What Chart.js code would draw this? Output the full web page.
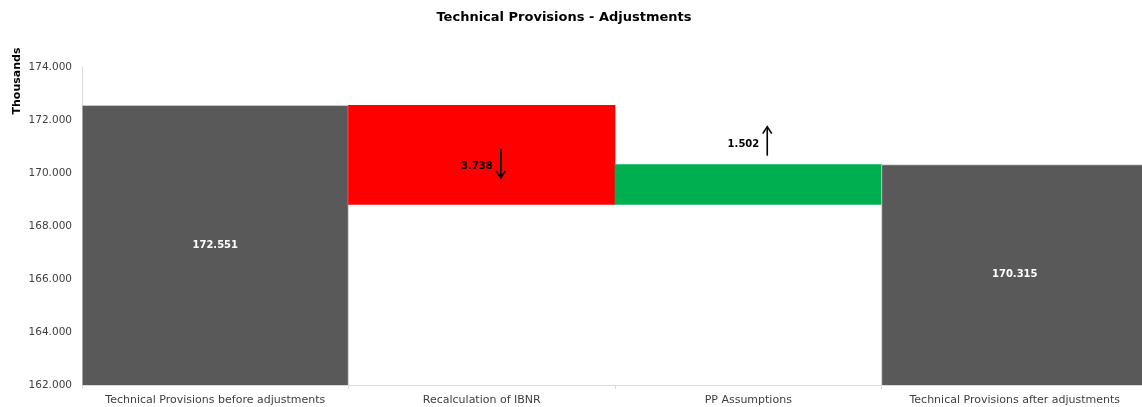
<!DOCTYPE html>
<html>
<head>
<meta charset="utf-8">
<script src="https://cdn.jsdelivr.net/npm/chart.js@4"></script>
<style>
  html, body { margin: 0; padding: 0; background: #fff; overflow: hidden; }
  #wrap { width: 1142px; height: 407px; overflow: hidden; }
</style>
</head>
<body>
<div id="wrap"><canvas id="grafik" width="1148" height="407"></canvas></div>
<script>
// Veriler (binlik birim)
const kategoriler = ['Technical Provisions before adjustments', 'Recalculation of IBNR', 'PP Assumptions', 'Technical Provisions after adjustments'];
const baslangicDegeri = 172551;
const degisimler = [-3738, 1502];
const bitisDegeri = 170315;
const yEksenTikleri = [162000, 164000, 166000, 168000, 170000, 172000, 174000];
const renkler = ['#595959', '#FF0000', '#00B050', '#595959'];
const baslik = 'Technical Provisions - Adjustments';
const yEksenBasligi = 'Thousands';

const yazi = '"DejaVu Sans", Verdana, sans-serif';

function binlikFormat(v) {
    return String(Math.round(Math.abs(v))).replace(/\B(?=(\d{3})+(?!\d))/g, '.');
}

// Şelale verisi: toplamlar normal bar, değişimler yüzen bar
let birikim = baslangicDegeri;
const barVerisi = [baslangicDegeri];
degisimler.forEach(d => {
    const yeni = birikim + d;
    barVerisi.push([Math.min(birikim, yeni), Math.max(birikim, yeni)]);
    birikim = yeni;
});
barVerisi.push(bitisDegeri);

const etiketEklentisi = {
    id: 'etiketler',
    afterDatasetsDraw(chart) {
        const ctx = chart.ctx;
        const meta = chart.getDatasetMeta(0);
        const yOlcek = chart.scales.y;
        const tabanPx = yOlcek.getPixelForValue(yEksenTikleri[0]);
        ctx.save();
        ctx.font = 'bold 10px ' + yazi;
        ctx.textBaseline = 'middle';
        // toplam barlar: beyaz, ortada
        [[0, baslangicDegeri], [3, bitisDegeri]].forEach(([i, v]) => {
            const el = meta.data[i];
            const ustPx = yOlcek.getPixelForValue(v);
            ctx.fillStyle = '#ffffff';
            ctx.textAlign = 'center';
            ctx.fillText(binlikFormat(v), el.x, (ustPx + tabanPx) / 2);
        });
        // değişim barları: siyah metin + ok
        degisimler.forEach((d, k) => {
            const el = meta.data[k + 1];
            const ust = Math.min(el.y, el.base);
            const alt = Math.max(el.y, el.base);
            const ty = d < 0 ? (ust + alt) / 2 + 11 : ust - 20;
            const sag = el.x + 11;
            ctx.fillStyle = '#000000';
            ctx.textAlign = 'right';
            ctx.fillText(binlikFormat(d), sag, ty);
            const ax = sag + 8;
            const ay = ty - 3;
            const y1 = ay - 14, y2 = ay + 14;
            ctx.strokeStyle = '#000000';
            ctx.lineWidth = 1.6;
            ctx.beginPath();
            ctx.moveTo(ax, y1);
            ctx.lineTo(ax, y2);
            ctx.stroke();
            ctx.beginPath();
            if (d < 0) {
                ctx.moveTo(ax - 4.5, y2 - 6); ctx.lineTo(ax, y2 + 1); ctx.lineTo(ax + 4.5, y2 - 6);
            } else {
                ctx.moveTo(ax - 4.5, y1 + 6); ctx.lineTo(ax, y1 - 1); ctx.lineTo(ax + 4.5, y1 + 6);
            }
            ctx.stroke();
        });
        // başlıklar
        ctx.fillStyle = '#000000';
        ctx.textAlign = 'center';
        ctx.font = 'bold 13px ' + yazi;
        ctx.fillText(baslik, 564, 18);
        ctx.translate(17, 81);
        ctx.rotate(-Math.PI / 2);
        ctx.font = 'bold 11px ' + yazi;
        ctx.fillText(yEksenBasligi, 0, 0);
        ctx.restore();
    }
};

new Chart(document.getElementById('grafik'), {
    type: 'bar',
    data: {
        labels: kategoriler,
        datasets: [{
            data: barVerisi,
            backgroundColor: renkler,
            borderColor: ['#c8c8c8', '#FF0000', '#00B050', '#c8c8c8'],
            borderWidth: [1, 0, 0, 1],
            borderSkipped: false,
            barPercentage: 1,
            categoryPercentage: 1
        }]
    },
    options: {
        responsive: false,
        animation: false,
        layout: { padding: { top: 67, left: 0, right: 0, bottom: 0 } },
        plugins: {
            legend: { display: false },
            title: { display: false },
            tooltip: { enabled: false }
        },
        scales: {
            x: {
                grid: { drawOnChartArea: false, tickLength: 4, color: '#d9d9d9', offset: true },
                border: { color: '#d9d9d9' },
                ticks: { color: '#404040', padding: 5, font: { size: 11, family: yazi }, maxRotation: 0 },
                afterFit(s) { s.height = 22; }
            },
            y: {
                min: yEksenTikleri[0],
                max: yEksenTikleri[yEksenTikleri.length - 1],
                afterBuildTicks(s) { s.ticks = yEksenTikleri.map(v => ({ value: v })); },
                grid: { display: false, drawTicks: false },
                border: { display: true, color: '#d9d9d9' },
                ticks: {
                    color: '#404040', padding: 10,
                    font: { size: 10.5, family: yazi },
                    callback: v => binlikFormat(v)
                },
                afterFit(s) { s.width = 82; }
            }
        }
    },
    plugins: [etiketEklentisi]
});
</script>
</body>
</html>
